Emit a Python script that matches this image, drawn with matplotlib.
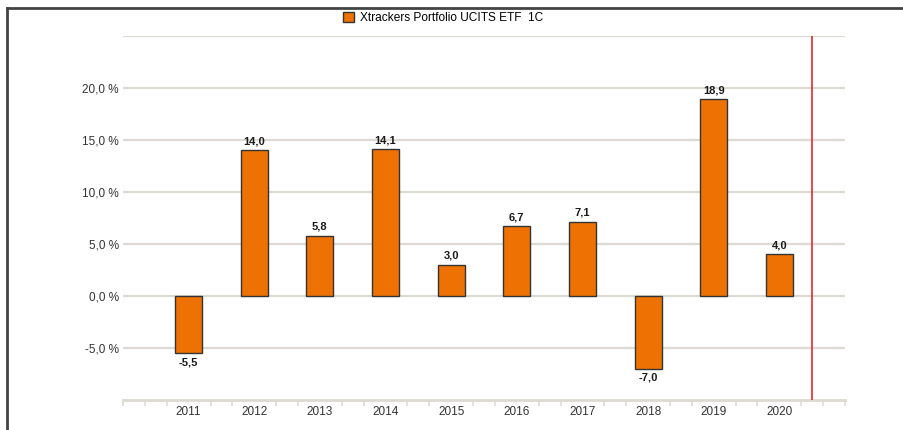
import numpy as np
import matplotlib.pyplot as plt
from matplotlib.lines import Line2D

plt.rcParams['font.family'] = ['Liberation Sans', 'DejaVu Sans']

# data
years = ['2011', '2012', '2013', '2014', '2015', '2016', '2017', '2018', '2019', '2020']
returns = [-5.5, 14.0, 5.8, 14.1, 3.0, 6.7, 7.1, -7.0, 18.9, 4.0]
y_ticks = [-5, 0, 5, 10, 15, 20, 25]
series_name = 'Xtrackers Portfolio UCITS ETF  1C'

bar_color = '#ee7203'
grid_color = '#dcdad2'

fig = plt.figure(figsize=(9.04, 4.30), dpi=100)
ax = fig.add_axes([123 / 904, 1 - 400 / 430, (845 - 123) / 904, (400 - 36) / 430])

x = np.arange(len(years))
bars = ax.bar(x, returns, width=0.41, color=bar_color, edgecolor='#333333',
              linewidth=1.0, zorder=3, label=series_name)

# value labels
for xi, v in zip(x, returns):
    txt = f'{v:.1f}'.replace('.', ',')
    if v >= 0:
        ax.annotate(txt, (xi, v), xytext=(0, 3), textcoords='offset points',
                    ha='center', va='bottom', fontsize=8, fontweight='bold', color='#1a1a1a')
    else:
        ax.annotate(txt, (xi, v), xytext=(0, -3), textcoords='offset points',
                    ha='center', va='top', fontsize=8, fontweight='bold', color='#1a1a1a')

# red marker line after last year
ax.axvline(9.5, color='#e8383c', linewidth=1.3, zorder=4)

ax.set_xlim(-1, 10)
ax.set_ylim(-10, 25)

ax.set_yticks(y_ticks)
ax.set_yticklabels([f'{t:.1f} %'.replace('.', ',') if t < 25 else '' for t in y_ticks])
ax.yaxis.grid(True, color=grid_color, linewidth=1.6, zorder=0)
ax.tick_params(axis='y', length=0, pad=3, labelsize=8.5, labelcolor='#333333')

ax.set_xticks(x)
ax.set_xticklabels(years)
minor = [i / 3 - 1 for i in range(34) if i % 3 != 0 or i == 0 or i == 33]
ax.set_xticks(minor, minor=True)
ax.tick_params(axis='x', which='major', length=0, pad=4, labelsize=8.5, labelcolor='#333333')
ax.tick_params(axis='x', which='minor', length=4, width=1.2, color=grid_color)

for s in ['top', 'right', 'left']:
    ax.spines[s].set_visible(False)
ax.spines['bottom'].set_color(grid_color)
ax.spines['bottom'].set_linewidth(2)

# legend at the top
leg = fig.legend(handles=[bars], labels=[series_name], loc='center',
                 bbox_to_anchor=(0.49, 1 - 18 / 430), frameon=False, fontsize=8.6,
                 handlelength=0.9, handleheight=0.9, handletextpad=0.5)

# frame lines (top and left)
fig.add_artist(Line2D([7 / 904, 1.0], [1 - 8 / 430, 1 - 8 / 430], color='#444444', linewidth=2))
fig.add_artist(Line2D([7 / 904, 7 / 904], [0, 1 - 8 / 430], color='#444444', linewidth=2))

fig.savefig('out.png', dpi=100)
